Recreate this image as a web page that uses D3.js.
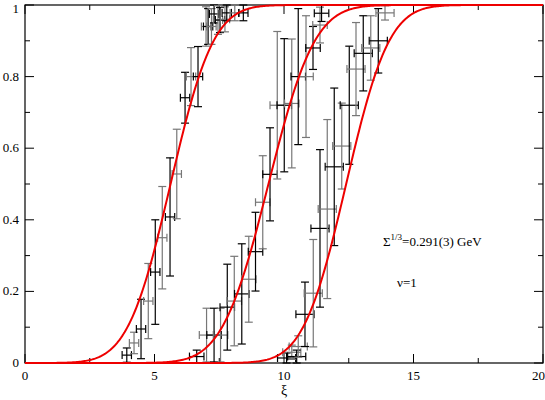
<!DOCTYPE html>
<html>
<head>
<meta charset="utf-8">
<script src="https://cdn.jsdelivr.net/npm/d3@7"></script>
<style>
body { margin: 0; background: #fff; }
</style>
</head>
<body>
<svg id="chart"></svg>
<script>
// data
const xs1 = [3.93, 4.21, 4.48, 4.76, 5.03, 5.30, 5.60, 5.86, 6.18, 6.41, 6.68, 6.99, 7.07, 7.20, 7.30, 7.45, 7.53, 7.72, 7.79, 8.10, 8.43];
const ys1 = [0.022, 0.056, 0.095, 0.173, 0.254, 0.35, 0.408, 0.528, 0.741, 0.80, 0.80, 0.94, 0.94, 0.94, 0.975, 0.958, 0.958, 0.96, 0.978, 0.978, 0.978];
const dy1 = [0.02, 0.03, 0.083, 0.105, 0.146, 0.143, 0.165, 0.125, 0.071, 0.081, 0.084, 0.055, 0.05, 0.05, 0.025, 0.04, 0.035, 0.035, 0.022, 0.022, 0.022];

const xs2 = [6.63, 7.01, 7.30, 7.55, 7.81, 8.08, 8.37, 8.64, 8.90, 9.18, 9.46, 9.74, 10.01, 10.30, 10.55, 10.85, 11.12, 11.39, 11.45];
const ys2 = [0.018, 0.078, 0.078, 0.078, 0.156, 0.173, 0.193, 0.234, 0.311, 0.449, 0.527, 0.72, 0.72, 0.725, 0.80, 0.80, 0.88, 0.944, 0.977];
const dy2 = [0.018, 0.075, 0.075, 0.075, 0.12, 0.125, 0.14, 0.12, 0.11, 0.13, 0.13, 0.206, 0.186, 0.18, 0.19, 0.17, 0.06, 0.05, 0.023];

const xs3 = [10.1, 10.3, 10.49, 10.55, 10.81, 11.13, 11.39, 11.67, 11.94, 12.23, 12.52, 12.78, 13.06, 13.35, 13.64, 13.9];
const ys3 = [0.014, 0.03, 0.018, 0.046, 0.136, 0.195, 0.376, 0.43, 0.548, 0.606, 0.72, 0.821, 0.865, 0.88, 0.90, 0.978];
const dy3 = [0.014, 0.02, 0.018, 0.03, 0.09, 0.15, 0.22, 0.25, 0.22, 0.12, 0.165, 0.13, 0.105, 0.09, 0.09, 0.02];

const dxs = [0.18, 0.28, 0.35];

// fitted curves (mean, width) of the three transitions
const fitMean = [5.62, 9.4, 12.4];
const fitWidth = [1.3, 1.4, 1.3];

const xTicks = [0, 5, 10, 15, 20];
const yTicks = [0, 0.2, 0.4, 0.6, 0.8, 1];

const W = 545, H = 400;
const margin = { top: 5, right: 2, bottom: 37, left: 25 };
const iw = W - margin.left - margin.right, ih = H - margin.top - margin.bottom;
const serif = "'Liberation Serif', 'Times New Roman', 'DejaVu Serif', serif";

const svg = d3.select("#chart").attr("width", W).attr("height", H).attr("font-family", serif);
const g = svg.append("g").attr("transform", `translate(${margin.left},${margin.top})`);

const x = d3.scaleLinear().domain([0, 20]).range([0, iw]);
const y = d3.scaleLinear().domain([0, 1]).range([ih, 0]);

// frame + ticks (inward, on all sides)
g.append("rect").attr("width", iw).attr("height", ih).attr("fill", "none").attr("stroke", "#000").attr("stroke-width", 1.2);
const xMinor = d3.range(0, 20.01, 2.5), yMinor = d3.range(0, 1.001, 0.1);
xMinor.forEach(v => {
  const len = (v % 5 === 0) ? 9 : 5;
  g.append("line").attr("x1", x(v)).attr("x2", x(v)).attr("y1", ih).attr("y2", ih - len).attr("stroke", "#000");
  g.append("line").attr("x1", x(v)).attr("x2", x(v)).attr("y1", 0).attr("y2", len).attr("stroke", "#000");
});
yMinor.forEach((v, i) => {
  const len = (i % 2 === 0) ? 9 : 5;
  g.append("line").attr("y1", y(v)).attr("y2", y(v)).attr("x1", 0).attr("x2", len).attr("stroke", "#000");
  g.append("line").attr("y1", y(v)).attr("y2", y(v)).attr("x1", iw).attr("x2", iw - len).attr("stroke", "#000");
});
g.selectAll("text.xt").data(xTicks).join("text").attr("class", "xt")
  .attr("x", d => d === 20 ? x(d) + 2 : x(d)).attr("y", ih + 17)
  .attr("text-anchor", d => d === 20 ? "end" : "middle").attr("font-size", 13).attr("font-family", serif).text(d => d);
g.selectAll("text.yt").data(yTicks).join("text").attr("class", "yt")
  .attr("x", -6).attr("y", d => d === 1 ? y(d) + 8 : y(d) + 4).attr("text-anchor", "end").attr("font-size", 13).attr("font-family", serif).text(d => d);
g.append("text").attr("x", x(10)).attr("y", ih + 32).attr("text-anchor", "middle").attr("font-size", 14).attr("font-family", serif).text("ξ");

// error bars
const groups = [[xs1, ys1, dy1], [xs2, ys2, dy2], [xs3, ys3, dy3]];
const cap = 4;
groups.forEach(([xs, ys, dy], gi) => {
  xs.forEach((xv, i) => {
    const col = i % 2 === 0 ? "#000" : "#777";
    const dx = dxs[gi];
    const lo = Math.max(0, ys[i] - dy[i]), hi = Math.min(1, ys[i] + dy[i]);
    const e = g.append("g").attr("stroke", col).attr("stroke-width", 1.2);
    e.append("line").attr("x1", x(xv)).attr("x2", x(xv)).attr("y1", y(lo)).attr("y2", y(hi));
    e.append("line").attr("x1", x(xv) - cap).attr("x2", x(xv) + cap).attr("y1", y(lo)).attr("y2", y(lo));
    e.append("line").attr("x1", x(xv) - cap).attr("x2", x(xv) + cap).attr("y1", y(hi)).attr("y2", y(hi));
    e.append("line").attr("x1", x(xv - dx)).attr("x2", x(xv + dx)).attr("y1", y(ys[i])).attr("y2", y(ys[i]));
    e.append("line").attr("x1", x(xv - dx)).attr("x2", x(xv - dx)).attr("y1", y(ys[i]) - cap).attr("y2", y(ys[i]) + cap);
    e.append("line").attr("x1", x(xv + dx)).attr("x2", x(xv + dx)).attr("y1", y(ys[i]) - cap).attr("y2", y(ys[i]) + cap);
  });
});

// fitted curves
const erf = z => {
  const t = 1 / (1 + 0.3275911 * Math.abs(z));
  const p = 1 - (((((1.061405429 * t - 1.453152027) * t) + 1.421413741) * t - 0.284496736) * t + 0.254829592) * t * Math.exp(-z * z);
  return z >= 0 ? p : -p;
};
const grid = d3.range(0, 20.001, 0.05);
const line = d3.line().x(d => x(d[0])).y(d => y(d[1]));
fitMean.forEach((m, k) => {
  const pts = grid.map(v => [v, 0.5 * (1 + erf((v - m) / (fitWidth[k] * Math.SQRT2)))]);
  g.append("path").attr("d", line(pts)).attr("fill", "none").attr("stroke", "#e00").attr("stroke-width", 2);
});

// annotations
const t1 = g.append("text").attr("x", 358).attr("y", 241).attr("font-size", 13).attr("font-family", serif);
t1.append("tspan").text("Σ");
t1.append("tspan").attr("font-size", 9).attr("dy", -6).text("1/3");
t1.append("tspan").attr("dy", 6).text("=0.291(3) GeV");
g.append("text").attr("x", 372).attr("y", 282).attr("font-size", 13).attr("font-family", serif).text("ν=1");
</script>
</body>
</html>
